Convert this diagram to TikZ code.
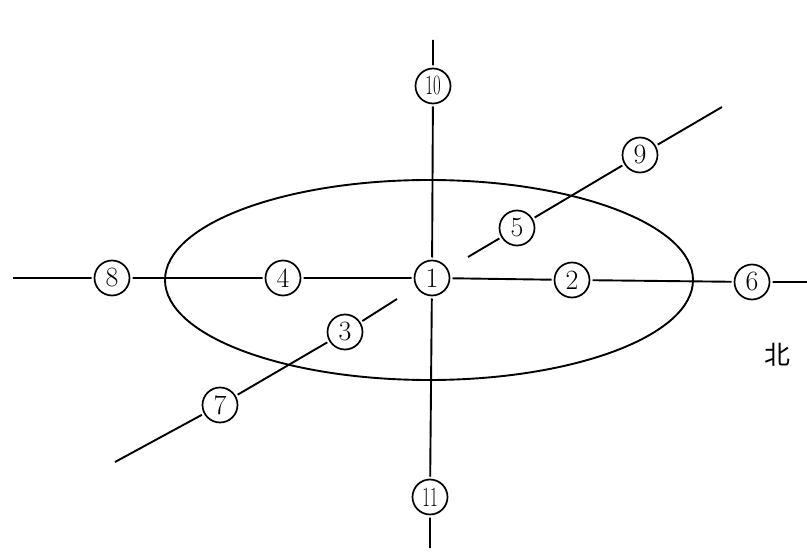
\documentclass[tikz,border=0pt]{standalone}
\usepackage{fontspec}
\newfontfamily\cjk{Noto Sans CJK SC}
\newcommand{\twodig}[1]{\scalebox{0.6}[1]{#1}}

\begin{document}
\begin{tikzpicture}[x=1bp,y=-1bp,line width=1.9bp,
    pt/.style={circle,draw,line width=1.7bp,minimum size=35bp,inner sep=0pt,outer sep=3bp,font=\fontsize{28}{28}\selectfont}]
  \useasboundingbox (0,0) rectangle (807,557);
  \draw (429,280) ellipse [x radius=264, y radius=100];
  % points
  \node[pt] (p1) at (432,278) {1};
  \node[pt] (p2) at (572,280) {2};
  \node[pt] (p3) at (345,332) {3};
  \node[pt] (p4) at (283,278) {4};
  \node[pt] (p5) at (517,228) {5};
  \node[pt] (p6) at (752,282) {6};
  \node[pt] (p7) at (220,405) {7};
  \node[pt] (p8) at (112,278) {8};
  \node[pt] (p9) at (640,155) {9};
  \node[pt] (p10) at (433,86) {\twodig{10}};
  \node[pt] (p11) at (430,497) {\twodig{11}};
  % line ends
  \coordinate (hl) at (13,278);
  \coordinate (hr) at (807,282);
  \coordinate (vt) at (433,40);
  \coordinate (vb) at (430,548);
  \coordinate (dl) at (115,462);
  \coordinate (dr) at (722,107);
  \coordinate (da) at (397,299);
  \coordinate (db) at (468,257);
  \draw (hl) -- (p8) -- (p4) -- (p1) -- (p2) -- (p6) -- (hr);
  \draw (vt) -- (p10) -- (p1) -- (p11) -- (vb);
  \draw (dl) -- (p7) -- (p3) -- (da);
  \draw (db) -- (p5) -- (p9) -- (dr);
  \node[font=\cjk\fontsize{26}{26}\selectfont] (north) at (777,355) {北};
\end{tikzpicture}
\end{document}
